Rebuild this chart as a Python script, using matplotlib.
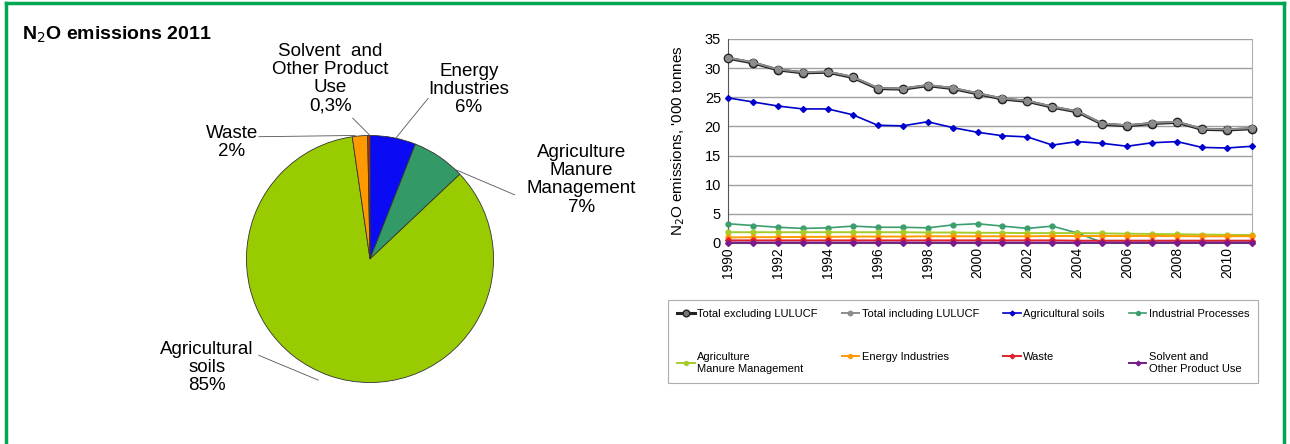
import matplotlib.pyplot as plt
from matplotlib.lines import Line2D

plt.rcParams['font.family'] = ['Liberation Sans', 'DejaVu Sans']

# 2011 shares (%), clockwise from the top
pie_labels = ['Energy\nIndustries', 'Agriculture\nManure\nManagement', 'Agricultural\nsoils',
              'Waste', 'Solvent  and\nOther Product\nUse']
pie_shares = [6, 7, 85, 2, 0.3]
pie_colors = ['#0A0AF5', '#339966', '#99CC00', '#FF9900', '#CC3300']

years = list(range(1990, 2012))
total_excl = [31.7, 30.9, 29.7, 29.2, 29.3, 28.4, 26.5, 26.4, 27.0, 26.5, 25.6,
              24.7, 24.3, 23.3, 22.5, 20.4, 20.1, 20.5, 20.7, 19.5, 19.4, 19.6]
total_incl = [31.8, 31.0, 29.8, 29.3, 29.4, 28.5, 26.6, 26.5, 27.1, 26.6, 25.7,
              24.8, 24.4, 23.4, 22.6, 20.5, 20.2, 20.6, 20.8, 19.6, 19.5, 19.7]
agri_soils = [24.9, 24.2, 23.5, 23.0, 23.0, 22.0, 20.2, 20.1, 20.8, 19.8, 19.0,
              18.4, 18.2, 16.8, 17.4, 17.1, 16.6, 17.2, 17.4, 16.4, 16.3, 16.6]
industrial = [3.3, 3.0, 2.7, 2.5, 2.6, 2.9, 2.7, 2.7, 2.6, 3.1, 3.3,
              2.9, 2.5, 2.9, 1.7, 0.1, 0.1, 0.1, 0.1, 0.1, 0.1, 0.1]
manure = [1.85, 1.85, 1.85, 1.85, 1.85, 1.85, 1.85, 1.85, 1.8, 1.8, 1.75,
          1.75, 1.7, 1.7, 1.7, 1.65, 1.6, 1.55, 1.5, 1.45, 1.4, 1.37]
energy = [0.95, 1.0, 1.0, 1.05, 1.05, 1.1, 1.1, 1.1, 1.15, 1.15, 1.15,
          1.15, 1.15, 1.2, 1.2, 1.2, 1.2, 1.2, 1.2, 1.15, 1.15, 1.18]
waste = [0.45, 0.45, 0.45, 0.45, 0.45, 0.45, 0.45, 0.45, 0.45, 0.45, 0.45,
         0.45, 0.45, 0.45, 0.4, 0.4, 0.4, 0.4, 0.4, 0.4, 0.4, 0.4]
solvent = [0.08, 0.08, 0.08, 0.08, 0.08, 0.08, 0.08, 0.08, 0.07, 0.07, 0.07,
           0.07, 0.07, 0.07, 0.07, 0.06, 0.06, 0.06, 0.06, 0.06, 0.06, 0.06]

fig = plt.figure(figsize=(12.9, 4.44), dpi=100)

# green frame
for xs, ys in [([0.005, 0.005], [0, 0.993]), ([0.005, 0.995], [0.993, 0.993]),
               ([0.995, 0.995], [0, 0.993])]:
    fig.add_artist(Line2D(xs, ys, color='#00A651', lw=2.5, transform=fig.transFigure))

fig.text(0.017, 0.91, 'N$_2$O emissions 2011', fontsize=14, fontweight='bold',
         va='baseline', ha='left')

# ---- pie ----
axp = fig.add_axes([(370 - 126) / 1290, (444 - 259 - 126) / 444, 252 / 1290, 252 / 444])
wedges, _ = axp.pie(pie_shares, colors=pie_colors, startangle=90, counterclock=False,
                    wedgeprops=dict(edgecolor='#333333', linewidth=0.6))
axp.set_xlim(-1.02, 1.02)
axp.set_ylim(-1.02, 1.02)
axp.set_aspect('equal')

label_pos = [(0.80, 1.37), (1.71, 0.64), (-1.32, -0.88), (-1.12, 0.94), (-0.32, 1.46)]
leader = [((0.47, 1.30), (0.21, 0.98)), ((1.17, 0.52), (0.70, 0.72)),
          ((-0.90, -0.78), (-0.42, -0.98)), ((-0.90, 0.99), (-0.12, 1.0)),
          ((-0.14, 1.14), (0.0, 1.0))]
for name, share, pos, (p0, p1) in zip(pie_labels, pie_shares, label_pos, leader):
    pct = f'{share:g}%'.replace('.', ',')
    axp.text(pos[0], pos[1], f'{name}\n{pct}', ha='center', va='center', fontsize=13.5,
             linespacing=1.08, clip_on=False)
    axp.plot([p0[0], p1[0]], [p0[1], p1[1]], color='#555555', lw=0.6, clip_on=False)

# ---- line chart ----
ax = fig.add_axes([728 / 1290, 1 - 243 / 444, (1252 - 728) / 1290, (243 - 39) / 444])
series = [
    ('Total excluding LULUCF', total_excl, '#222222', 2.2, 'o', 6, '#777777'),
    ('Total including LULUCF', total_incl, '#8C8C8C', 1.4, 'o', 4, '#8C8C8C'),
    ('Agricultural soils', agri_soils, '#0000CC', 1.2, 'D', 3, '#0000CC'),
    ('Industrial Processes', industrial, '#3A9E6E', 1.2, 'o', 3.5, '#3A9E6E'),
    ('Agriculture\nManure Management', manure, '#A6CC2A', 1.4, 'o', 3.5, '#A6CC2A'),
    ('Energy Industries', energy, '#FF9900', 1.4, 'o', 3.5, '#FF9900'),
    ('Waste', waste, '#E0202A', 1.4, 'D', 3, '#E0202A'),
    ('Solvent and\nOther Product Use', solvent, '#7A1A8C', 1.4, 'D', 3, '#7A1A8C'),
]
handles = {}
for name, vals, col, lw, mk, ms, mfc in series:
    ln, = ax.plot(years, vals, color=col, lw=lw, marker=mk, ms=ms, mfc=mfc,
                  mec=col, label=name, clip_on=False, zorder=3)
    handles[name] = ln

ax.set_xlim(1990, 2011)
ax.set_ylim(0, 35)
ax.set_yticks(range(0, 36, 5))
ax.set_xticks(range(1990, 2011, 2))
ax.set_xticks(years, minor=True)
ax.tick_params(axis='x', which='both', length=0, labelrotation=90, labelsize=10, pad=3)
ax.tick_params(axis='y', length=0, labelsize=10.5, pad=5)
ax.yaxis.grid(True, color='#A0A0A0', lw=1)
ax.set_axisbelow(True)
ax.spines['top'].set_visible(False)
ax.spines['right'].set_color('#B0B0B0')
ax.spines['left'].set_color('#555555')
ax.spines['bottom'].set_color('#555555')
ax.set_ylabel("N$_2$O emissions, '000 tonnes", fontsize=11, labelpad=13)

# legend filled row by row
order = ['Total excluding LULUCF', 'Agriculture\nManure Management',
         'Total including LULUCF', 'Energy Industries',
         'Agricultural soils', 'Waste',
         'Industrial Processes', 'Solvent and\nOther Product Use']
leg = fig.legend([handles[k] for k in order], order, loc='upper left',
                 bbox_to_anchor=(668 / 1290, 1 - 388 / 444, 590 / 1290, 88 / 444),
                 mode='expand', ncol=4, fontsize=8, frameon=True, fancybox=False,
                 edgecolor='#999999', handlelength=1.6, handletextpad=0.2,
                 labelspacing=3.0, borderpad=0.8, markerscale=0.8, borderaxespad=0)
leg.get_frame().set_linewidth(0.8)

fig.savefig('out.png', dpi=100)
